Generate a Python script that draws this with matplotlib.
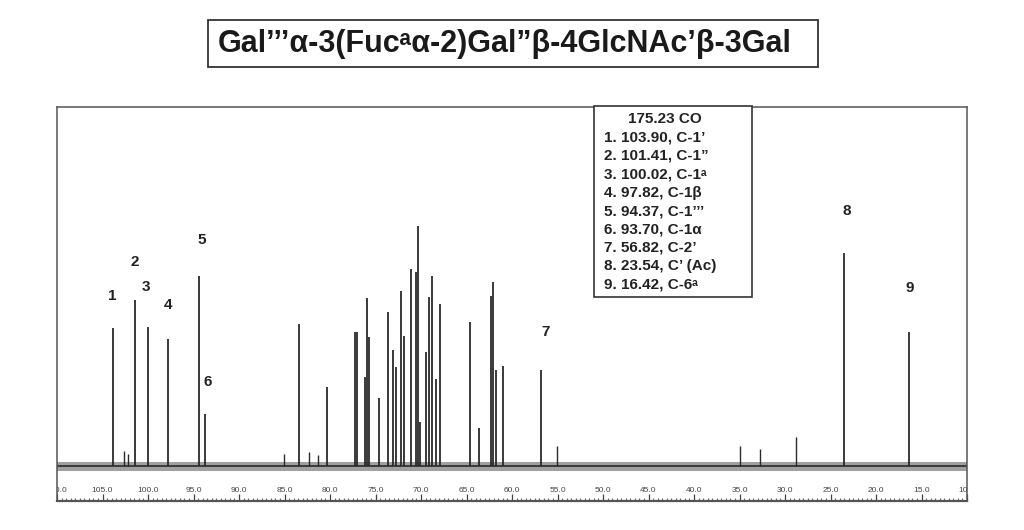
import matplotlib
matplotlib.use("Agg")
import matplotlib.pyplot as plt
from matplotlib.patches import Rectangle
import numpy as np

# ---------------- data ----------------
title = "Gal\u2019\u2019\u2019\u03b1-3(Fuc\u1d43\u03b1-2)Gal\u201d\u03b2-4GlcNAc\u2019\u03b2-3Gal"

# labelled peaks (ppm, relative intensity in arbitrary units)
label_ids = ["1", "2", "3", "4", "5", "6", "7", "8", "9"]
label_ppm = [103.90, 101.41, 100.02, 97.82, 94.37, 93.70, 56.82, 23.54, 16.42]
label_int = [138, 166, 139, 127, 190, 52, 96, 213, 134]

# other (unlabelled) peaks of the ring region
ring_ppm = [83.4, 80.3, 77.3, 77.0, 76.2, 75.9, 75.7, 74.6, 73.6, 73.1, 72.7,
            72.2, 71.9, 71.1, 70.5, 70.3, 70.1, 69.4, 69.1, 68.8, 68.3, 67.9,
            64.6, 63.6, 62.3, 62.1, 61.8, 61.0]
ring_int = [142, 79, 134, 134, 89, 168, 129, 68, 154, 116, 99,
            175, 130, 197, 194, 240, 44, 114, 169, 190, 87, 162,
            144, 38, 170, 184, 96, 100]

# small peaks / impurities
small_ppm = [102.6, 102.2, 85.1, 82.3, 81.3, 55.1, 35.0, 32.7, 28.8]
small_int = [15, 12, 12, 14, 11, 20, 20, 17, 29]

legend_lines = ["175.23 CO",
                "1. 103.90, C-1\u2019",
                "2. 101.41, C-1\u201d",
                "3. 100.02, C-1\u1d43",
                "4. 97.82, C-1\u03b2",
                "5. 94.37, C-1\u2019\u2019\u2019",
                "6. 93.70, C-1\u03b1",
                "7. 56.82, C-2\u2019",
                "8. 23.54, C\u2019 (Ac)",
                "9. 16.42, C-6\u1d43"]

tick_values = [110, 105, 100, 95, 90, 85, 80, 75, 70, 65, 60, 55, 50, 45, 40,
               35, 30, 25, 20, 15, 10]

# ---------------- figure ----------------
W, H = 1024, 530
fig = plt.figure(figsize=(W / 100, H / 100), dpi=100)
fam = ["Liberation Sans", "DejaVu Sans"]
ink = "#2a2a2a"

# main spectrum axes (pixel frame: x 57..967, y 107..501)
L, R, T, B = 57, 967, 107, 501
ax = fig.add_axes([L / W, 1 - B / H, (R - L) / W, (B - T) / H])
ax.set_xlim(110, 10)
ax.set_ylim(-35, 359)

# baseline (noise band)
ax.axhline(0, color="#a0a0a0", lw=6.5, zorder=1)
ax.axhline(0, color="#333333", lw=1.3, zorder=1)

ax.vlines(ring_ppm, 0, ring_int, color=ink, lw=1.3, zorder=2)
ax.vlines(small_ppm, 0, small_int, color=ink, lw=1.0, zorder=2)
ax.vlines(label_ppm, 0, label_int, color=ink, lw=1.3, zorder=2)

# peak numbers
label_dx = [0.0, 0.0, 0.2, 0.0, -0.3, -0.3, -0.5, -0.3, -0.1]
label_dy = [32, 38, 40, 34, 36, 32, 38, 42, 44]
for lid, p, h, dx, dy in zip(label_ids, label_ppm, label_int, label_dx, label_dy):
    ax.text(p + dx, h + dy, lid, ha="center", va="center", fontsize=11,
            fontweight="bold", family=fam, color="#222222")

# ruler ticks inside
ax.set_xticks(tick_values)
ax.set_xticks(np.arange(10, 110.01, 0.5), minor=True)
ax.tick_params(axis="x", which="major", direction="in", length=5, width=0.9,
               color="#444444", labelbottom=False)
ax.tick_params(axis="x", which="minor", direction="in", length=2, width=0.8,
               color="#666666")
ax.set_yticks([])
for v in tick_values:
    ax.text(v, -25, f"{v:.1f}", ha="center", va="center", fontsize=6,
            family=fam, color="#444444", clip_on=True)
for s in ax.spines.values():
    s.set_color("#555555")
    s.set_linewidth(1.1)
ax.spines["bottom"].set_linewidth(1.6)

# ---------------- overlay in pixel coordinates ----------------
ov = fig.add_axes([0, 0, 1, 1], facecolor="none")
ov.set_xlim(0, W)
ov.set_ylim(H, 0)
ov.axis("off")

# title box
ov.add_patch(Rectangle((208, 20), 610, 47, fill=False, ec="#333333", lw=1.3))
ov.text(505, 44, title, ha="center", va="center", fontsize=22,
        fontweight="bold", family=fam, color="#1a1a1a")

# assignments box
ov.add_patch(Rectangle((594, 106), 158, 191, facecolor="white",
                       ec="#333333", lw=1.2, zorder=3))
for i, line in enumerate(legend_lines):
    y = 119 + 18.4 * i
    if i == 0:
        ov.text(665, y, line, ha="center", va="center", fontsize=11,
                fontweight="bold", family=fam, color="#222222", zorder=4)
    else:
        ov.text(604, y, line, ha="left", va="center", fontsize=11,
                fontweight="bold", family=fam, color="#222222", zorder=4)

fig.savefig("out.png", dpi=100, facecolor="white")
